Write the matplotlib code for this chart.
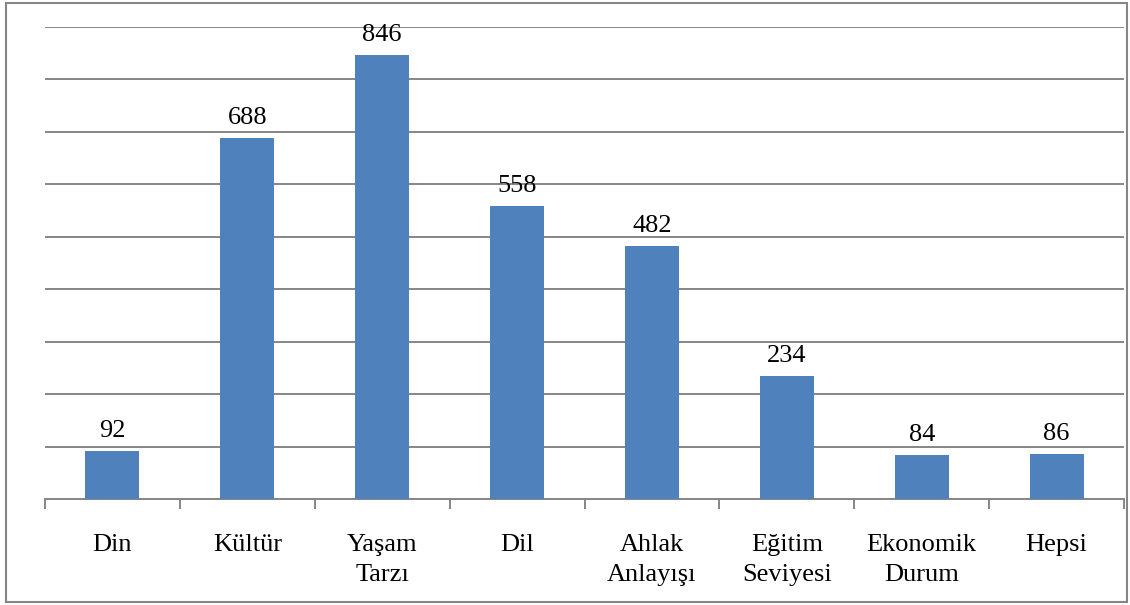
import matplotlib
matplotlib.use("Agg")
import matplotlib.pyplot as plt
from matplotlib.patches import Rectangle

categories = ["Din", "Kültür", "Yaşam\nTarzı", "Dil", "Ahlak\nAnlayışı", "Eğitim\nSeviyesi", "Ekonomik\nDurum", "Hepsi"]
values = [92, 688, 846, 558, 482, 234, 84, 86]

plt.rcParams['font.family'] = ['Liberation Serif', 'DejaVu Serif']

fig = plt.figure(figsize=(11.3, 6.05), dpi=100)
ax = fig.add_axes([45/1130, 1-499/605, 1079/1130, 472/605])

x = list(range(len(categories)))
bars = ax.bar(x, values, width=0.40, color="#4F81BD", zorder=3)
ax.set_xlim(-0.5, len(categories) - 0.5)
ax.set_ylim(0, 900)
ax.set_yticks(range(0, 901, 100))
ax.yaxis.grid(True, color="#868686", linewidth=1.4, zorder=0)
ax.tick_params(axis='y', left=False, labelleft=False)

for s in ['top', 'right', 'left']:
    ax.spines[s].set_visible(False)
ax.spines['bottom'].set_color("#868686")
ax.spines['bottom'].set_linewidth(1.4)

ax.set_xticks([i - 0.5 for i in range(len(categories) + 1)])
ax.set_xticklabels([])
ax.tick_params(axis='x', length=7, color="#868686", width=1.4, direction='out')
for i, c in enumerate(categories):
    ax.annotate(c, xy=(i, 0), xycoords='data', xytext=(0, -35), textcoords='offset pixels',
                ha='center', va='top', fontsize=19, linespacing=1.45)

for b, v in zip(bars, values):
    ax.annotate(str(v), xy=(b.get_x() + b.get_width() / 2, v), xytext=(0, 9),
                textcoords='offset pixels', ha='center', va='bottom', fontsize=19)

fig.patches.append(Rectangle((6/1130, 3/605), 1121/1130, 599/605, transform=fig.transFigure,
                             fill=False, edgecolor="#868686", linewidth=1.5))

fig.savefig("out.png", dpi=100)
